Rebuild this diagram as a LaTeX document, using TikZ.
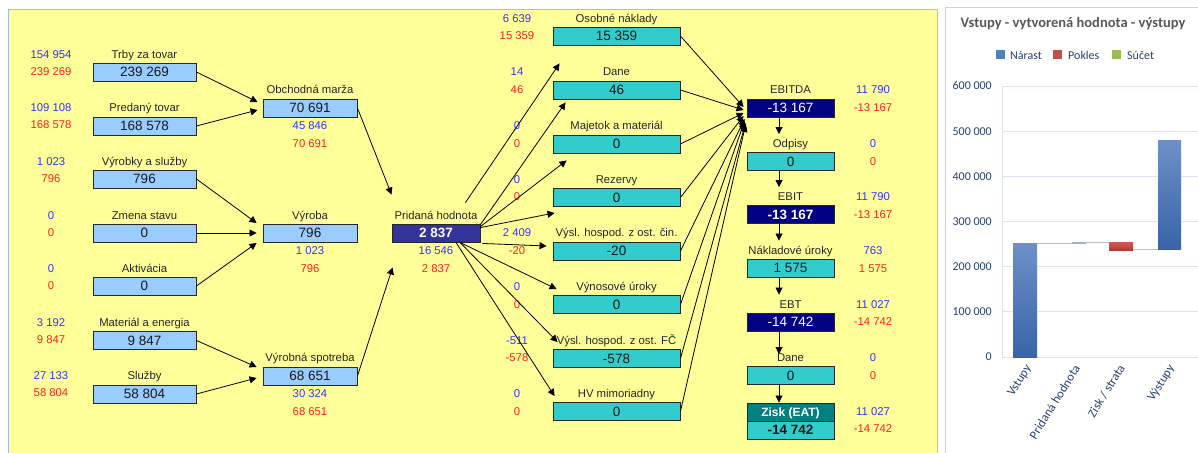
\documentclass[tikz,border=0pt]{standalone}
\usepackage{fontspec}
\setmainfont{Liberation Sans}
\newfontfamily\chartfont{Carlito}
\usetikzlibrary{arrows.meta,calc}
\definecolor{ylw}{HTML}{FFFF99}
\definecolor{lblue}{HTML}{99CCFF}
\definecolor{tealc}{HTML}{33CCCC}
\definecolor{navyc}{HTML}{000080}
\definecolor{pridc}{HTML}{333399}
\definecolor{ziskc}{HTML}{008080}
\definecolor{numblue}{HTML}{3333FF}
\definecolor{numred}{HTML}{FF2020}
\definecolor{panelb}{HTML}{A6BDD7}
\definecolor{gridc}{HTML}{DCE4F0}
\definecolor{axisc}{HTML}{26406E}
\definecolor{titlec}{HTML}{595959}
\definecolor{barTop}{HTML}{6D90C8}
\definecolor{barBot}{HTML}{3864A8}
\definecolor{redTop}{HTML}{D05A58}
\definecolor{redBot}{HTML}{B53A38}
\definecolor{legblue}{HTML}{4F81BD}
\definecolor{legred}{HTML}{C0504D}
\definecolor{leggreen}{HTML}{9BBB59}
\tikzset{
  box/.style={draw=black!85, line width=0.9pt, minimum height=18pt, inner sep=0pt,
    font=\fontsize{13.5}{14}\selectfont, text=black!90, text height=9.7pt, text depth=0pt},
  lb/.style={box, fill=lblue, minimum width=103pt},
  mb/.style={box, fill=lblue, minimum width=94pt},
  tb/.style={box, fill=tealc, minimum width=127pt},
  rb/.style={box, fill=tealc, minimum width=87pt},
  nb/.style={box, fill=navyc, text=white, minimum width=87pt},
  lab/.style={font=\fontsize{11.3}{12}\selectfont, inner sep=0pt, text=black!85, text height=8pt, text depth=2.5pt},
  bn/.style={lab, text=numblue},
  rn/.style={lab, text=numred},
  arr/.style={-{Triangle[length=7pt,width=7pt]}, line width=0.8pt, black},
  axl/.style={font=\chartfont\fontsize{12}{13}\selectfont, text=axisc, inner sep=0pt},
  catl/.style={font=\chartfont\fontsize{12.5}{13}\selectfont, text=axisc, inner sep=0pt, rotate=58, anchor=east},
  legl/.style={font=\chartfont\fontsize{12}{13}\selectfont, text=axisc, inner sep=0pt, anchor=west}
}
\begin{document}
\begin{tikzpicture}[x=1pt,y=-1pt]
\useasboundingbox (0,0) rectangle (1198,452);
\fill[white] (0,0) rectangle (1198,452);
% yellow panel
\fill[ylw] (8,9) rectangle (937,460);
\draw[panelb, line width=0.8pt] (8,460) -- (8,9) -- (937,9) -- (937,460);
% chart panel
\draw[fill=white, draw=black!18, line width=0.6pt] (945,7) rectangle (1210,470);

% ---------- left column
\node[lab] (trbyL) at (144.5,56) {Trby za tovar};
\node[lb] (trby) at (144.5,72) {239 269};
\node[bn] (trbyB) at (51,56) {154 954};
\node[rn] (trbyR) at (51,73) {239 269};

\node[lab] (predL) at (144.5,109) {Predaný tovar};
\node[lb] (pred) at (144.5,126) {168 578};
\node[bn] (predB) at (51,109) {109 108};
\node[rn] (predR) at (51,126) {168 578};

\node[lab] (vyrL) at (144.5,163) {Výrobky a služby};
\node[lb] (vyr) at (144.5,179) {796};
\node[bn] (vyrB) at (51,163) {1 023};
\node[rn] (vyrR) at (51,180) {796};

\node[lab] (zmenaL) at (144.5,217) {Zmena stavu};
\node[lb] (zmena) at (144.5,233) {0};
\node[bn] (zmenaB) at (51,217) {0};
\node[rn] (zmenaR) at (51,234) {0};

\node[lab] (aktL) at (144.5,270) {Aktivácia};
\node[lb] (akt) at (144.5,286) {0};
\node[bn] (aktB) at (51,270) {0};
\node[rn] (aktR) at (51,287) {0};

\node[lab] (matL) at (144.5,324) {Materiál a energia};
\node[lb] (mat) at (144.5,340.5) {9 847};
\node[bn] (matB) at (51,324) {3 192};
\node[rn] (matR) at (51,341) {9 847};

\node[lab] (sluzL) at (144.5,377) {Služby};
\node[lb] (sluz) at (144.5,394) {58 804};
\node[bn] (sluzB) at (51,377) {27 133};
\node[rn] (sluzR) at (51,394) {58 804};

% ---------- middle column
\node[lab] (obchL) at (310,91) {Obchodná marža};
\node[mb] (obch) at (310,108) {70 691};
\node[bn] (obchB) at (310,127) {45 846};
\node[rn] (obchR) at (310,145) {70 691};

\node[lab] (vyrobaL) at (310,217) {Výroba};
\node[mb] (vyroba) at (310,233) {796};
\node[bn] (vyrobaB) at (310,252) {1 023};
\node[rn] (vyrobaR) at (310,270) {796};

\node[lab] (spotL) at (310,359) {Výrobná spotreba};
\node[mb] (spot) at (310,376) {68 651};
\node[bn] (spotB) at (310,395) {30 324};
\node[rn] (spotR) at (310,413) {68 651};

% ---------- pridana hodnota
\node[lab] (pridL) at (436,217) {Pridaná hodnota};
\node[box, fill=pridc, text=white, minimum width=88pt, font=\bfseries\fontsize{13.5}{14}\selectfont] (prid) at (436,233) {2 837};
\node[bn] (pridB) at (436,252) {16 546};
\node[rn] (pridR) at (436,270) {2 837};

% ---------- teal column
\node[lab] (osobL) at (616.5,20) {Osobné náklady};
\node[tb] (osob) at (616.5,36) {15 359};
\node[bn] (osobB) at (517,20) {6 639};
\node[rn] (osobR) at (517,37) {15 359};

\node[lab] (daneL) at (616.5,73) {Dane};
\node[tb] (dane) at (616.5,90) {46};
\node[bn] (daneB) at (517,73) {14};
\node[rn] (daneR) at (517,91) {46};

\node[lab] (majL) at (616.5,127) {Majetok a materiál};
\node[tb] (maj) at (616.5,144) {0};
\node[bn] (majB) at (517,127) {0};
\node[rn] (majR) at (517,145) {0};

\node[lab] (rezL) at (616.5,181) {Rezervy};
\node[tb] (rez) at (616.5,197.5) {0};
\node[bn] (rezB) at (517,181) {0};
\node[rn] (rezR) at (517,198) {0};

\node[lab] (vcinL) at (616.5,234) {Výsl. hospod. z ost. čin.};
\node[tb] (vcin) at (616.5,251) {-20};
\node[bn] (vcinB) at (517,234) {2 409};
\node[rn] (vcinR) at (517,252) {-20};

\node[lab] (vynosL) at (616.5,288) {Výnosové úroky};
\node[tb] (vynos) at (616.5,304.5) {0};
\node[bn] (vynosB) at (517,288) {0};
\node[rn] (vynosR) at (517,306) {0};

\node[lab] (vfcL) at (616.5,342) {Výsl. hospod. z ost. FČ};
\node[tb] (vfc) at (616.5,358.5) {-578};
\node[bn] (vfcB) at (517,342) {-511};
\node[rn] (vfcR) at (517,359) {-578};

\node[lab] (hvL) at (616.5,395) {HV mimoriadny};
\node[tb] (hv) at (616.5,411.5) {0};
\node[bn] (hvB) at (517,395) {0};
\node[rn] (hvR) at (517,413) {0};

% ---------- right column
\node[lab] (ebitdaL) at (790.5,91) {EBITDA};
\node[nb] (ebitda) at (790.5,108) {-13 167};
\node[bn] (ebitdaB) at (873,91) {11 790};
\node[rn] (ebitdaR) at (873,109) {-13 167};

\node[lab] (odpL) at (790.5,145) {Odpisy};
\node[rb] (odp) at (790.5,161.5) {0};
\node[bn] (odpB) at (873,145) {0};
\node[rn] (odpR) at (873,163) {0};

\node[lab] (ebitL) at (790.5,198) {EBIT};
\node[nb, font=\bfseries\fontsize{13.5}{14}\selectfont] (ebit) at (790.5,214.5) {-13 167};
\node[bn] (ebitB) at (873,198) {11 790};
\node[rn] (ebitR) at (873,216) {-13 167};

\node[lab] (naklL) at (790.5,252) {Nákladové úroky};
\node[rb] (nakl) at (790.5,268) {1 575};
\node[bn] (naklB) at (873,252) {763};
\node[rn] (naklR) at (873,270) {1 575};

\node[lab] (ebtL) at (790.5,306) {EBT};
\node[nb] (ebt) at (790.5,322) {-14 742};
\node[bn] (ebtB) at (873,306) {11 027};
\node[rn] (ebtR) at (873,323) {-14 742};

\node[lab] (dane2L) at (790.5,359) {Dane};
\node[rb] (dane2) at (790.5,375.5) {0};
\node[bn] (dane2B) at (873,359) {0};
\node[rn] (dane2R) at (873,377) {0};

\node[box, fill=ziskc, text=white, minimum width=87pt, font=\bfseries\fontsize{12}{13}\selectfont, text height=8.6pt] (zisk) at (790.5,412) {Zisk (EAT)};
\node[rb, font=\bfseries\fontsize{13.5}{14}\selectfont] (ziskV) at (790.5,430) {-14 742};
\node[bn] (ziskB) at (873,413) {11 027};
\node[rn] (ziskR) at (873,430) {-14 742};

% ---------- connectors left
\draw[arr] (trby.east) -- ($(obch.west)+(-5,-6)$);
\draw[arr] (pred.east) -- ($(obch.west)+(-5,2)$);
\draw[arr] (vyr.east) -- ($(vyroba.west)+(-6,-10)$);
\draw[arr] (zmena.east) -- ($(vyroba.west)+(-6,0)$);
\draw[arr] (akt.east) -- ($(vyroba.west)+(-6,10)$);
\draw[arr] (mat.east) -- ($(spot.west)+(-6,-9)$);
\draw[arr] (sluz.east) -- ($(spot.west)+(-6,2)$);
\draw[arr] (obch.east) -- ($(prid.north west)+(0,-29)$);
\draw[arr] (spot.east) -- ($(prid.south west)+(1,25)$);

% ---------- connectors from pridana
\draw[arr] ($(prid.north east)+(-15,-21)$) -- ($(osob.south west)+(7,18)$);
\draw[arr] ($(prid.north east)+(0,1)$) -- ($(dane.south west)+(13,3)$);
\draw[arr] ($(prid.north east)+(0,3)$) -- ($(maj.south west)+(14,7)$);
\draw[arr] ($(prid.north east)+(0,4)$) -- ($(rez.south west)+(2,6)$);
\draw[arr] ($(prid.south east)+(2,1)$) -- ($(vcin.west)+(-6,-5)$);
\draw[arr] ($(prid.south)+(24,0)$) -- ($(vynos.north west)+(4,-6)$);
\draw[arr] ($(prid.south)+(24,0)$) -- ($(vfc.north west)+(5,-7)$);
\draw[arr] ($(prid.south)+(20,0)$) -- ($(hv.north west)+(2,-6)$);

% ---------- fan into EBITDA
\draw[arr] (osob.east) -- ($(ebitda.west)+(-3,-1)$);
\draw[arr] (dane.east) -- ($(ebitda.west)+(-3,2)$);
\draw[arr] (maj.east) -- ($(ebitda.west)+(-3,5)$);
\draw[arr] (rez.east) -- ($(ebitda.west)+(-3,8)$);
\draw[arr] (vcin.east) -- ($(ebitda.west)+(-2,11)$);
\draw[arr] (vynos.east) -- ($(ebitda.west)+(-2,13)$);
\draw[arr] (vfc.east) -- ($(ebitda.west)+(-1,15)$);
\draw[arr] (hv.east) -- ($(ebitda.west)+(-1,17)$);

% ---------- vertical chain
\draw[arr] ($(ebitda.south)+(-11.5,0)$) -- ($(odp.north)+(-11.5,-18)$);
\draw[arr] ($(odp.south)+(-11.5,0)$) -- ($(ebit.north)+(-11.5,-18)$);
\draw[arr] ($(ebit.south)+(-11.5,0)$) -- ($(nakl.north)+(-11.5,-18)$);
\draw[arr] ($(nakl.south)+(-11.5,0)$) -- ($(ebt.north)+(-11.5,-18)$);
\draw[arr] ($(ebt.south)+(-11.5,0)$) -- ($(dane2.north)+(-11.5,-12)$);
\draw[arr] ($(dane2.south)+(-11.5,-1)$) -- ($(zisk.north)+(-11.5,0)$);

% ---------- chart
\node[font=\chartfont\bfseries\fontsize{14.5}{15}\selectfont, text=titlec, inner sep=0pt] (ctitle) at (1073,24) {Vstupy - vytvorená hodnota - výstupy};
\fill[legblue] (996,50.5) rectangle (1005,59.5);
\node[legl] (lg1) at (1010,55) {Nárast};
\fill[legred] (1053,50.5) rectangle (1062,59.5);
\node[legl] (lg2) at (1068,55) {Pokles};
\fill[leggreen] (1112,50.5) rectangle (1121,59.5);
\node[legl] (lg3) at (1127,55) {Súčet};

\foreach \v/\lbl [count=\i] in {0/0, 1/100 000, 2/200 000, 3/300 000, 4/400 000, 5/500 000, 6/600 000} {
  \draw[gridc, line width=0.8pt] (1002,{357-45.17*\v}) -- (1200,{357-45.17*\v});
  \node[axl, anchor=east] (ax\i) at (992,{357-45.17*\v}) {\lbl};
}
\draw[gridc, line width=0.8pt] (1002,86) -- (1002,357);

\shade[top color=barTop, bottom color=barBot] (1013,243) rectangle (1037,357);
\fill[barTop!70] (1072,241.5) rectangle (1086,243.5);
\shade[top color=redTop, bottom color=redBot] (1109,242) rectangle (1133,250);
\shade[top color=barTop, bottom color=barBot] (1158,140) rectangle (1181,249);
\draw[black!25, line width=0.8pt] (1037,243) -- (1072,243);
\draw[black!25, line width=0.8pt] (1086,242) -- (1109,242);
\draw[black!25, line width=0.8pt] (1133,249.5) -- (1158,249.5);

\node[catl] (c1) at (1029,366) {Vstupy};
\node[catl] (c2) at (1077,366) {Pridaná hodnota};
\node[catl] (c3) at (1122,366) {Zisk / strata};
\node[catl] (c4) at (1172,366) {Výstupy};
\end{tikzpicture}
\end{document}
